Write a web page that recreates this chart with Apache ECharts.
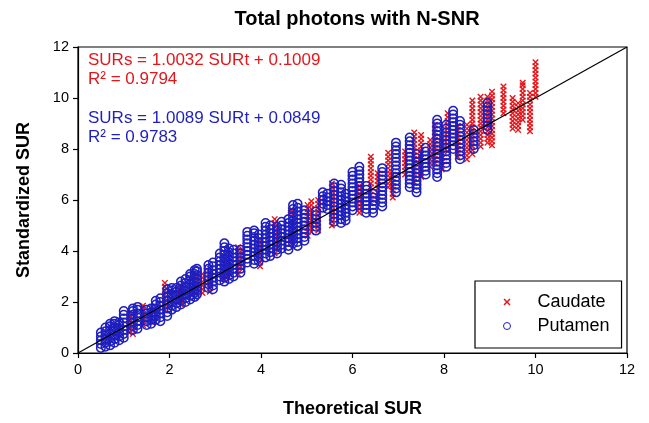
<!DOCTYPE html>
<html><head><meta charset="utf-8">
<script src="https://cdn.jsdelivr.net/npm/echarts@6/dist/echarts.min.js"></script>
<style>html,body{margin:0;padding:0;background:#fff}#c{width:649px;height:423px}</style>
</head><body><div id="c"></div>
<script>
// Axis ticks
const xTicks = [0, 2, 4, 6, 8, 10, 12];
const yTicks = [0, 2, 4, 6, 8, 10, 12];
const seriesNames = ['Caudate', 'Putamen'];

// Caudate (red x): column positions (theoretical SUR) and standardized SUR values per column
const caudateX = [1.12, 1.20, 1.42, 1.62, 1.90, 2.25, 2.55, 2.72, 2.88, 3.20, 3.50, 3.60, 3.98, 4.30, 4.65, 5.02, 5.10, 5.25, 5.55, 6.15, 6.40, 6.55, 6.78, 6.88, 7.15, 7.35, 7.50, 7.70, 7.80, 7.95, 8.08, 8.30, 8.50, 8.62, 8.80, 8.95, 9.05, 9.30, 9.50, 9.62, 9.72, 9.88, 10.0];
const caudateY = [
  [0.8,0.95,1.1,1.25,1.4,1.55],
  [0.75,0.9,1.05,1.2,1.35,1.5],
  [1.1,1.25,1.4,1.55,1.7,1.85],
  [1.2,1.35,1.5,1.65,1.8],
  [1.7,1.85,2.0,2.15,2.3,2.45,2.6,2.75],
  [1.9,2.05,2.2,2.35,2.5,2.65],
  [2.2,2.35,2.5,2.65,2.8,2.95],
  [2.35,2.5,2.65,2.8,2.95,3.1],
  [2.4,2.55,2.7,2.85,3.0,3.15,3.3],
  [2.9,3.05,3.2,3.35,3.5,3.65,3.8],
  [3.1,3.25,3.4,3.55,3.7,3.85,4.0,4.15],
  [3.3,3.45,3.6,3.75,3.9,4.05],
  [3.4,3.55,3.7,3.85,4.0,4.15,4.3,4.45],
  [3.9,4.05,4.2,4.35,4.5,4.65,4.8,4.95,5.1,5.25],
  [4.3,4.45,4.6,4.75,4.9,5.05,5.2,5.35,5.5,5.6],
  [4.6,4.75,4.9,5.05,5.2,5.35,5.5,5.65,5.8],
  [4.75,4.9,5.05,5.2,5.35,5.5,5.65,5.8,5.95],
  [4.8,4.95,5.1,5.25,5.4,5.55,5.7,5.85,6.0],
  [5.0,5.15,5.3,5.45,5.6,5.75,5.9,6.05,6.2,6.35,6.5,6.65],
  [5.5,5.65,5.8,5.95,6.1,6.25,6.4,6.55],
  [5.9,6.05,6.2,6.35,6.5,6.65,6.8,6.95,7.1,7.25,7.4,7.55,7.7],
  [6.0,6.15,6.3,6.45,6.6,6.75,6.9,7.05],
  [6.5,6.65,6.8,6.95,7.1,7.25,7.4,7.55,7.7,7.85],
  [6.1,6.25,6.4,6.55,6.7,6.85,7.0],
  [7.0,7.15,7.3,7.45,7.6,7.75,7.9],
  [6.7,6.85,7.0,7.15,7.3,7.45,7.6,7.75,7.9,8.05,8.2,8.35,8.5,8.65],
  [6.9,7.05,7.2,7.35,7.5,7.65,7.8,7.95,8.1,8.25,8.4,8.55],
  [7.3,7.45,7.6,7.75,7.9,8.05,8.2,8.35],
  [7.45,7.6,7.75,7.9,8.05,8.2,8.35,8.5,8.65,8.8,8.95],
  [7.2,7.35,7.5,7.65,7.8,7.95,8.1,8.25,8.4],
  [7.9,8.05,8.2,8.35,8.5,8.65,8.8,8.95,9.1,9.25,9.4],
  [7.7,7.85,8.0,8.15,8.3,8.45,8.6,8.75,8.9],
  [7.6,7.75,7.9,8.05,8.2,8.35,8.5,8.65,8.8,8.95],
  [7.8,7.95,8.1,8.25,8.4,8.55,8.7,8.85,9.0,9.15,9.3,9.45,9.6,9.75,9.9],
  [8.1,8.25,8.4,8.55,8.7,8.85,9.0,9.15,9.3,9.45,9.6,9.75,9.9,10.05],
  [8.25,8.4,8.55,8.7,8.85,9.0,9.15,9.3,9.45,9.6,9.75,9.9,10.05],
  [8.15,8.3,8.45,8.6,8.75,8.9,9.05,9.2,9.35,9.5,9.65,9.8,9.95,10.1,10.25],
  [9.4,9.55,9.7,9.85,10.0,10.15,10.3,10.45],
  [8.8,8.95,9.1,9.25,9.4,9.55,9.7,9.85,10.0],
  [8.75,8.9,9.05,9.2,9.35,9.5,9.65,9.8],
  [9.15,9.3,9.45,9.6,9.75,9.9,10.05,10.2,10.35,10.5,10.6],
  [8.7,8.85,9.0,9.15,9.3,9.45,9.6,9.75,9.9,10.05,10.2],
  [10.05,10.2,10.35,10.5,10.65,10.8,10.95,11.1,11.25,11.4]
];

// Putamen (blue o)
const putamenX = [0.50, 0.60, 0.70, 0.80, 0.90, 1.00, 1.20, 1.30, 1.50, 1.60, 1.70, 1.80, 1.95, 2.05, 2.15, 2.25, 2.35, 2.45, 2.55, 2.60, 2.85, 2.95, 3.10, 3.20, 3.30, 3.40, 3.55, 3.70, 3.85, 3.95, 4.10, 4.20, 4.35, 4.45, 4.60, 4.70, 4.80, 4.95, 5.20, 5.35, 5.45, 5.60, 5.75, 5.85, 6.00, 6.15, 6.30, 6.45, 6.65, 6.95, 7.25, 7.40, 7.60, 7.85, 8.05, 8.20, 8.35, 8.65, 8.95];
const putamenY = [
  [0.2,0.35,0.5,0.65,0.8],
  [0.25,0.4,0.55,0.7,0.85,1.0],
  [0.3,0.45,0.6,0.75,0.9,1.05,1.15],
  [0.4,0.55,0.7,0.85,1.0,1.15,1.25],
  [0.5,0.65,0.8,0.95,1.1,1.2],
  [0.6,0.75,0.9,1.05,1.2,1.35,1.5,1.65],
  [0.9,1.05,1.2,1.35,1.5,1.65,1.75],
  [0.95,1.1,1.25,1.4,1.55,1.7,1.8],
  [1.1,1.25,1.4,1.55,1.7],
  [1.15,1.3,1.45,1.6,1.75],
  [1.3,1.45,1.6,1.75,1.9,2.05],
  [1.25,1.4,1.55,1.7,1.85,2.0,2.15],
  [1.45,1.6,1.75,1.9,2.05,2.2,2.35,2.5],
  [1.7,1.85,2.0,2.15,2.3,2.45,2.55],
  [1.8,1.95,2.1,2.25,2.4,2.55],
  [1.9,2.05,2.2,2.35,2.5,2.65,2.8],
  [2.0,2.15,2.3,2.45,2.6,2.75,2.9],
  [2.1,2.25,2.4,2.55,2.7,2.85,3.0,3.1],
  [2.2,2.35,2.5,2.65,2.8,2.95,3.1,3.25],
  [2.3,2.45,2.6,2.75,2.9,3.05,3.2,3.3],
  [2.55,2.7,2.85,3.0,3.15,3.3,3.45],
  [2.5,2.65,2.8,2.95,3.1,3.25,3.4,3.55],
  [2.85,3.0,3.15,3.3,3.45,3.6,3.75,3.9],
  [2.8,2.95,3.1,3.25,3.4,3.55,3.7,3.85,4.0,4.15,4.3],
  [2.9,3.05,3.2,3.35,3.5,3.65,3.8,3.95,4.1],
  [3.0,3.15,3.3,3.45,3.6,3.75,3.9,4.05],
  [3.15,3.3,3.45,3.6,3.75,3.9,4.05],
  [3.55,3.7,3.85,4.0,4.15,4.3,4.45,4.6,4.75],
  [3.5,3.65,3.8,3.95,4.1,4.25,4.4,4.55,4.7,4.8],
  [3.6,3.75,3.9,4.05,4.2,4.35,4.5,4.65],
  [3.75,3.9,4.05,4.2,4.35,4.5,4.65,4.8,4.95,5.1],
  [3.8,3.95,4.1,4.25,4.4,4.55,4.7,4.85,5.0],
  [3.9,4.05,4.2,4.35,4.5,4.65,4.8,4.95],
  [4.1,4.25,4.4,4.55,4.7,4.85,5.0,5.15],
  [4.05,4.2,4.35,4.5,4.65,4.8,4.95,5.1,5.25],
  [4.3,4.45,4.6,4.75,4.9,5.05,5.2,5.35,5.5,5.65,5.8],
  [4.2,4.35,4.5,4.65,4.8,4.95,5.1,5.25,5.4,5.55,5.7,5.85],
  [4.4,4.55,4.7,4.85,5.0,5.15,5.3,5.45,5.6],
  [4.8,4.95,5.1,5.25,5.4,5.55],
  [5.7,5.85,6.0,6.15,6.3],
  [5.65,5.8,5.95,6.1,6.25],
  [5.15,5.3,5.45,5.6,5.75,5.9,6.05,6.2,6.35,6.5,6.65],
  [5.1,5.25,5.4,5.55,5.7,5.85,6.0,6.15,6.3,6.45,6.6],
  [5.2,5.35,5.5,5.65,5.8,5.95,6.1,6.25],
  [5.6,5.75,5.9,6.05,6.2,6.35,6.5,6.65,6.8,6.95,7.1],
  [5.8,5.95,6.1,6.25,6.4,6.55,6.7,6.85,7.0,7.15,7.3],
  [5.5,5.65,5.8,5.95,6.1,6.25,6.4,6.55],
  [5.5,5.65,5.8,5.95,6.1,6.25],
  [5.75,5.9,6.05,6.2,6.35,6.5,6.65,6.8,6.95,7.1,7.25],
  [6.3,6.45,6.6,6.75,6.9,7.05,7.2,7.35,7.5,7.65,7.8,7.95,8.1,8.25],
  [6.5,6.65,6.8,6.95,7.1,7.25,7.4,7.55,7.7,7.85,8.0,8.15,8.3,8.45],
  [6.3,6.45,6.6,6.75,6.9,7.05,7.2,7.35,7.5,7.65,7.8],
  [7.0,7.15,7.3,7.45,7.6,7.75,7.9,8.05],
  [6.9,7.05,7.2,7.35,7.5,7.65,7.8,7.95,8.1,8.25,8.4,8.55,8.7,8.85,9.0,9.15],
  [7.3,7.45,7.6,7.75,7.9,8.05,8.2,8.35,8.5,8.65,8.8,8.95],
  [8.0,8.15,8.3,8.45,8.6,8.75,8.9,9.05,9.2,9.35,9.5],
  [7.6,7.75,7.9,8.05,8.2,8.35,8.5,8.65,8.8,8.95,9.1],
  [8.0,8.15,8.3,8.45,8.6,8.75],
  [8.75,8.9,9.05,9.2,9.35,9.5,9.65,9.8]
];

// Identity line endpoints
const lineX = [0, 12];
const lineY = [0, 12];

// Regression text
const caudateEq = ['SURs = 1.0032 SURt + 0.1009', 'R\u00B2 = 0.9794'];
const putamenEq = ['SURs = 1.0089 SURt + 0.0849', 'R\u00B2 = 0.9783'];

function toPoints(xs, ys) {
  const out = [];
  xs.forEach((x, i) => ys[i].forEach(y => out.push([x, y])));
  return out;
}

const RED = '#e5161b';
const BLUE = '#1f1fbf';
const FONT = 'Liberation Sans, Arial, sans-serif';
const crossPath = 'path://M0,1.5L1.5,0L5,3.5L8.5,0L10,1.5L6.5,5L10,8.5L8.5,10L5,6.5L1.5,10L0,8.5L3.5,5Z';

const chart = echarts.init(document.getElementById('c'));
chart.setOption({
  animation: false,
  backgroundColor: '#fff',
  title: {
    text: 'Total photons with N-SNR', left: 352, top: 4, textAlign: 'center',
    textStyle: { fontFamily: FONT, fontWeight: 'bold', fontSize: 20, color: '#000' }
  },
  grid: { left: 78, right: 22, top: 47, bottom: 69, show: true, borderColor: '#000', borderWidth: 1.2, backgroundColor: 'transparent' },
  xAxis: {
    type: 'value', min: xTicks[0], max: xTicks[xTicks.length - 1], interval: 2,
    name: 'Theoretical SUR', nameLocation: 'middle', nameGap: 47,
    nameTextStyle: { fontFamily: FONT, fontWeight: 'bold', fontSize: 18, color: '#000' },
    axisLine: { show: true, lineStyle: { color: '#000', width: 1.2 } },
    axisTick: { show: true, inside: false, length: 5, lineStyle: { color: '#000', width: 1.2 } },
    axisLabel: { margin: 9, fontFamily: FONT, fontSize: 14.5, color: '#000' },
    splitLine: { show: false }
  },
  yAxis: {
    type: 'value', min: yTicks[0], max: yTicks[yTicks.length - 1], interval: 2,
    name: 'Standardized SUR', nameLocation: 'middle', nameGap: 45, nameRotate: 90,
    nameTextStyle: { fontFamily: FONT, fontWeight: 'bold', fontSize: 18, color: '#000' },
    axisLine: { show: true, lineStyle: { color: '#000', width: 1.2 } },
    axisTick: { show: true, inside: false, length: 5, lineStyle: { color: '#000', width: 1.2 } },
    axisLabel: { margin: 9, fontFamily: FONT, fontSize: 14.5, color: '#000' },
    splitLine: { show: false }
  },
  legend: {
    left: 475, top: 281, orient: 'vertical',
    data: [
      { name: seriesNames[0], icon: crossPath, itemStyle: { color: RED } },
      { name: seriesNames[1], icon: 'circle', itemStyle: { color: 'rgba(0,0,0,0)', borderColor: BLUE, borderWidth: 1 } }
    ],
    itemWidth: 7, itemHeight: 7, itemGap: 6,
    padding: [12, 12, 13, 28],
    backgroundColor: '#fff', borderColor: '#000', borderWidth: 1.2, borderRadius: 0,
    textStyle: { fontFamily: FONT, fontSize: 18, color: '#000', padding: [0, 0, 0, 22] }
  },
  graphic: [
    { type: 'text', left: 88, top: 52, style: { text: caudateEq[0], fill: RED, font: '17px ' + FONT } },
    { type: 'text', left: 88, top: 71, style: { text: caudateEq[1], fill: RED, font: '17px ' + FONT } },
    { type: 'text', left: 88, top: 110, style: { text: putamenEq[0], fill: BLUE, font: '17px ' + FONT } },
    { type: 'text', left: 88, top: 129, style: { text: putamenEq[1], fill: BLUE, font: '17px ' + FONT } }
  ],
  series: [
    {
      name: seriesNames[0], type: 'scatter', symbol: crossPath, symbolSize: 6.5,
      itemStyle: { color: RED, opacity: 1 },
      data: toPoints(caudateX, caudateY), z: 2
    },
    {
      name: seriesNames[1], type: 'scatter', symbol: 'circle', symbolSize: 8.5,
      itemStyle: { color: 'rgba(0,0,0,0)', borderColor: BLUE, borderWidth: 1.5, opacity: 1 },
      data: toPoints(putamenX, putamenY), z: 3
    },
    {
      name: 'identity', type: 'line', data: lineX.map((x, i) => [x, lineY[i]]),
      symbol: 'none', lineStyle: { color: '#000', width: 1.2 }, z: 4, silent: true
    }
  ]
});
</script></body></html>
